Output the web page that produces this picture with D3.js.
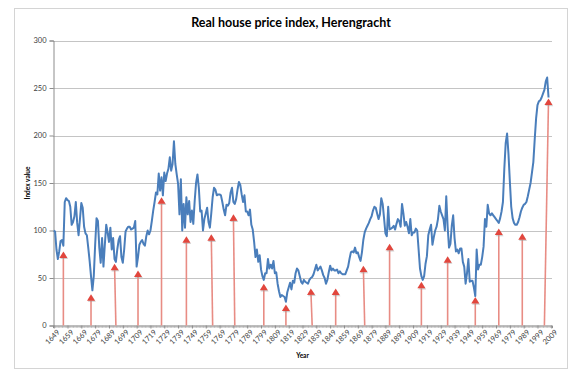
<!DOCTYPE html>
<html>
<head>
<meta charset="utf-8">
<script src="https://cdn.jsdelivr.net/npm/d3@7"></script>
<style>
  html, body { margin: 0; padding: 0; background: #ffffff; }
  svg { display: block; }
</style>
</head>
<body>
<svg id="chart" width="580" height="380"></svg>
<script>
// ---------- DATA ----------
const firstYear = 1649;
const lastYear = 2009;
const tickYears = d3.range(1649, 2010, 10);
const yTicks = [0, 50, 100, 150, 200, 250, 300];

// real house price index, one value per year from 1649
const indexValues = [
  100, 99, 80, 70, 78, 89, 90, 84, 130, 134,
  132, 131, 125, 106, 109, 115, 130, 108, 95, 112,
  129, 124, 104, 97, 95, 82, 68, 52, 37, 52,
  85, 113, 110, 82, 66, 92, 62, 85, 106, 98,
  88, 103, 80, 92, 70, 67, 80, 90, 94, 72,
  66, 80, 99, 102, 104, 104, 101, 102, 103, 110,
  62, 72, 85, 88, 90, 86, 84, 94, 100, 96,
  100, 110, 121, 130, 140, 138, 160, 142, 156, 137,
  161, 152, 160, 165, 177, 163, 170, 194, 170, 159,
  149, 117, 154, 100, 128, 103, 135, 117, 131, 109,
  121, 107, 131, 150, 159, 145, 120, 121, 100, 112,
  118, 124, 109, 103, 118, 135, 145, 143, 137, 138,
  138, 137, 130, 122, 116, 127, 126, 129, 140, 145,
  130, 128, 133, 143, 151, 148, 138, 130, 137, 120,
  120, 116, 122, 106, 101, 88, 72, 80, 67, 74,
  59, 52, 48, 55, 55, 70, 60, 64, 60, 68,
  55, 56, 44, 36, 30, 32, 31, 30, 25, 35,
  40, 45, 38, 47, 45, 55, 60, 58, 52, 46,
  44, 48, 46, 45, 44, 48, 50, 51, 54, 59,
  64, 58, 60, 62, 58, 53, 50, 44, 48, 56,
  63, 58, 60, 58, 58, 59, 55, 57, 55, 54,
  54, 54, 58, 62, 70, 77, 78, 77, 82, 76,
  77, 72, 68, 77, 90, 98, 102, 105, 108, 112,
  115, 121, 125, 124, 118, 112, 117, 134, 128, 113,
  97, 94, 125, 101, 102, 103, 105, 101, 107, 112,
  110, 104, 128, 118, 105, 109, 104, 97, 112, 95,
  98, 98, 102, 100, 80, 60, 52, 48, 52, 65,
  73, 95, 101, 106, 85, 93, 100, 104, 112, 126,
  120, 116, 112, 100, 136, 104, 82, 86, 105, 116,
  92, 78, 80, 76, 81, 81, 67, 62, 44, 55,
  70, 46, 47, 47, 40, 31, 80, 59, 64, 64,
  72, 83, 112, 104, 127, 118, 116, 118, 116, 114,
  112, 110, 108, 113, 120, 130, 165, 192, 202, 181,
  152, 125, 113, 108, 106, 106, 109, 114, 120, 124,
  127, 128, 130, 136, 143, 150, 161, 172, 196, 218,
  232, 236, 237, 240, 244, 248, 257, 261, 240
];

// red arrows: where they start on the axis, where the head points
const arrowBaseYears = [1656, 1676, 1694, 1710, 1727, 1745, 1764, 1780, 1801, 1817, 1836, 1853, 1874, 1892, 1915, 1934, 1954, 1971, 1988, 2004];
const arrowTipYears  = [1656, 1676, 1693, 1710, 1727, 1745, 1763, 1779, 1801, 1817, 1835, 1853, 1873, 1892, 1915, 1934, 1954, 1971, 1988, 2007];
const arrowTipValues = [78, 33, 65, 58, 135, 94, 96, 117, 44, 22, 39, 39, 63, 86, 46, 73, 30, 102, 97, 239];

// ---------- CHART ----------
const svg = d3.select("#chart");
const W = 580, H = 380;
const plot = { left: 53, right: 552, top: 40.5, bottom: 325.5 };
const font = "Lato, 'Open Sans', 'Liberation Sans', sans-serif";

svg.append("rect").attr("width", W).attr("height", H).attr("fill", "#ffffff");
// outer chart border
svg.append("rect")
  .attr("x", 14.5).attr("y", 8.5).attr("width", 553).attr("height", 360)
  .attr("fill", "#ffffff").attr("stroke", "#d4d4d4").attr("stroke-width", 1);

const x = d3.scaleLinear()
  .domain([firstYear - 0.5, lastYear + 0.5])
  .range([plot.left, plot.right]);
const y = d3.scaleLinear().domain([0, 300]).range([plot.bottom, plot.top]);

// gridlines
svg.append("g")
  .selectAll("line")
  .data(yTicks.filter(d => d > 0))
  .join("line")
  .attr("x1", plot.left).attr("x2", plot.right)
  .attr("y1", d => Math.round(y(d)) + 0.5).attr("y2", d => Math.round(y(d)) + 0.5)
  .attr("stroke", "#c4c4c4").attr("stroke-width", 1);

// y axis
const yAxis = svg.append("g")
  .attr("transform", `translate(${plot.left + 0.5},0)`)
  .call(d3.axisLeft(y).tickValues(yTicks).tickSize(4).tickPadding(3));
yAxis.select(".domain").attr("stroke", "#8c8c8c");
yAxis.selectAll(".tick line").attr("stroke", "#8c8c8c");
yAxis.selectAll(".tick text")
  .attr("font-family", font).attr("font-size", 7.5).attr("fill", "#404040");

// x axis: minor ticks every year
const years = d3.range(firstYear, lastYear + 1);
const xMinor = svg.append("g")
  .attr("transform", `translate(0,${plot.bottom})`)
  .call(d3.axisBottom(x).tickValues(years).tickSize(2.5).tickFormat(""));
xMinor.select(".domain").attr("stroke", "#8c8c8c");
xMinor.selectAll(".tick line").attr("stroke", "#a0a0a0").attr("stroke-width", 0.6);

// x axis labels every 10 years
const xAxis = svg.append("g")
  .attr("transform", `translate(0,${plot.bottom})`)
  .call(d3.axisBottom(x).tickValues(tickYears).tickSize(3).tickFormat(d3.format("d")));
xAxis.select(".domain").remove();
xAxis.selectAll(".tick line").attr("stroke", "#8c8c8c");
xAxis.selectAll(".tick text")
  .attr("font-family", font).attr("font-size", 7.5).attr("fill", "#404040")
  .attr("text-anchor", "end")
  .attr("dy", 0)
  .attr("transform", "translate(2,3) rotate(-45)");

// series line
const line = d3.line()
  .x((d, i) => x(firstYear + i))
  .y(d => y(d));
svg.append("path")
  .datum(indexValues)
  .attr("d", line)
  .attr("fill", "none")
  .attr("stroke", "#4a7ebb")
  .attr("stroke-width", 2)
  .attr("stroke-linejoin", "round");

// arrows
const arrows = arrowBaseYears.map((b, i) => ({ base: b, tip: arrowTipYears[i], v: arrowTipValues[i] }));
const headH = 6.5, headW = 4;
const ag = svg.append("g");
arrows.forEach(a => {
  const x0 = x(a.base), x1 = x(a.tip), y1 = y(a.v);
  const dx = x1 - x0, dy = y1 - plot.bottom;
  const len = Math.hypot(dx, dy);
  const ux = dx / len, uy = dy / len;
  const bx = x1 - ux * headH, by = y1 - uy * headH;
  ag.append("line")
    .attr("x1", x0).attr("y1", plot.bottom)
    .attr("x2", bx).attr("y2", by)
    .attr("stroke", "#e88c84").attr("stroke-width", 1.6);
  const pts = [[x1, y1], [bx - uy * headW, by + ux * headW], [bx + uy * headW, by - ux * headW]];
  // soft shadow
  ag.append("polygon")
    .attr("points", pts.map(p => [p[0] + 0.8, p[1] + 1.2].join(",")).join(" "))
    .attr("fill", "#9a9a9a").attr("opacity", 0.45);
  ag.append("polygon")
    .attr("points", pts.map(p => p.join(",")).join(" "))
    .attr("fill", "#e2463d");
});

// title and axis titles
svg.append("text")
  .attr("x", 291).attr("y", 27)
  .attr("text-anchor", "middle")
  .attr("font-family", font).attr("font-weight", "bold").attr("font-size", 12.5)
  .attr("fill", "#000000")
  .text("Real house price index, Herengracht");

svg.append("text")
  .attr("transform", `translate(30,${(plot.top + plot.bottom) / 2}) rotate(-90)`)
  .attr("text-anchor", "middle")
  .attr("font-family", font).attr("font-weight", "bold").attr("font-size", 6.5)
  .attr("fill", "#000000")
  .text("Index value");

svg.append("text")
  .attr("x", (plot.left + plot.right) / 2).attr("y", 358)
  .attr("text-anchor", "middle")
  .attr("font-family", font).attr("font-weight", "bold").attr("font-size", 6.5)
  .attr("fill", "#000000")
  .text("Year");
</script>
</body>
</html>
